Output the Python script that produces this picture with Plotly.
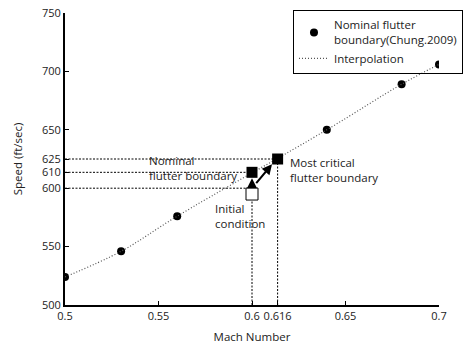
import plotly.graph_objects as go

# Data
mach_pts = [0.5, 0.53, 0.56, 0.64, 0.68, 0.7]
speed_pts = [524, 546, 576, 650, 689, 706]

initial_pt = (0.6, 595)
nominal_pt = (0.6, 613.6)
critical_pt = (0.6137, 625)

x_tickvals = [0.5, 0.55, 0.6, 0.6137, 0.65, 0.7]
x_ticktext = ["0.5", "0.55", "0.6", "0.616", "0.65", "0.7"]
y_tickvals = [500, 550, 600, 613.6, 625, 650, 700, 750]
y_ticktext = ["500", "550", "600", "610", "625", "650", "700", "750"]

FONT = "Open Sans"
fig = go.Figure()

# Reference dashed lines
ref_lines = [
    ([0.5, critical_pt[0]], [critical_pt[1], critical_pt[1]]),
    ([0.5, nominal_pt[0]], [nominal_pt[1], nominal_pt[1]]),
    ([0.5, initial_pt[0]], [600, 600]),
    ([initial_pt[0], initial_pt[0]], [500, initial_pt[1]]),
    ([critical_pt[0], critical_pt[0]], [500, critical_pt[1]]),
]
for xs, ys in ref_lines:
    fig.add_trace(go.Scatter(x=xs, y=ys, mode="lines", showlegend=False, hoverinfo="skip",
                             line=dict(color="black", width=1, dash="2px,1.5px")))

fig.add_trace(go.Scatter(x=mach_pts, y=speed_pts, mode="markers",
                         name="Nominal flutter<br>boundary(Chung.2009)",
                         marker=dict(color="black", size=8, symbol="circle")))
fig.add_trace(go.Scatter(x=mach_pts, y=speed_pts, mode="lines", name="Interpolation",
                         line=dict(color="#555", width=1.2, dash="1px,2px", shape="spline")))

# Squares
fig.add_trace(go.Scatter(x=[initial_pt[0]], y=[initial_pt[1]], mode="markers", showlegend=False,
                         marker=dict(symbol="square", size=12, color="white",
                                     line=dict(color="black", width=1))))
fig.add_trace(go.Scatter(x=[nominal_pt[0], critical_pt[0]], y=[nominal_pt[1], critical_pt[1]],
                         mode="markers", showlegend=False,
                         marker=dict(symbol="square", size=11, color="black")))

# Arrows
fig.add_annotation(x=0.6, y=608.5, ax=0.6, ay=601, xref="x", yref="y", axref="x", ayref="y",
                   showarrow=True, arrowhead=2, arrowsize=1, arrowwidth=2, arrowcolor="black", text="")
fig.add_annotation(x=0.6107, y=620.5, ax=0.6016, ay=603, xref="x", yref="y", axref="x", ayref="y",
                   showarrow=True, arrowhead=2, arrowsize=1, arrowwidth=2, arrowcolor="black", text="")

# Labels
ann_font = dict(family=FONT, size=11.5, color="#222")
fig.add_annotation(x=0.5438, y=617.5, xref="x", yref="y", text="Nominal<br>flutter boundary",
                   showarrow=False, xanchor="left", yanchor="middle", align="left", font=ann_font)
fig.add_annotation(x=0.5791, y=576.5, xref="x", yref="y", text="Initial<br>condition",
                   showarrow=False, xanchor="left", yanchor="middle", align="left", font=ann_font)
fig.add_annotation(x=0.6193, y=615.5, xref="x", yref="y", text="Most critical<br>flutter boundary",
                   showarrow=False, xanchor="left", yanchor="middle", align="left", font=ann_font)

fig.update_layout(
    width=465, height=344,
    margin=dict(l=65, r=26, t=13, b=39, autoexpand=False),
    paper_bgcolor="white", plot_bgcolor="white",
    font=dict(family=FONT, size=12, color="#222"),
    showlegend=True,
    legend=dict(x=0.6096, y=1.0103, xanchor="left", yanchor="top",
                bgcolor="rgba(0,0,0,0)", bordercolor="black", borderwidth=1,
                font=dict(family=FONT, size=11.5, color="#222"),
                tracegroupgap=0, itemwidth=30),
    xaxis=dict(range=[0.5, 0.7], tickvals=x_tickvals, ticktext=x_ticktext, tickangle=0,
               tickfont=dict(size=11),
               showgrid=False, zeroline=False, showline=True, linecolor="black", linewidth=2,
               ticks="inside", ticklen=4, tickwidth=1, tickcolor="black",
               title=dict(text="Mach Number", standoff=11, font=dict(size=11.5))),
    yaxis=dict(range=[500, 750], tickvals=y_tickvals, ticktext=y_ticktext,
               tickfont=dict(size=11),
               showgrid=False, zeroline=False, showline=True, linecolor="black", linewidth=2,
               ticks="inside", ticklen=4, tickwidth=1, tickcolor="black",
               title=dict(text="Speed (ft/sec)", standoff=17, font=dict(size=11.5))),
)

fig.write_html("out.html")
